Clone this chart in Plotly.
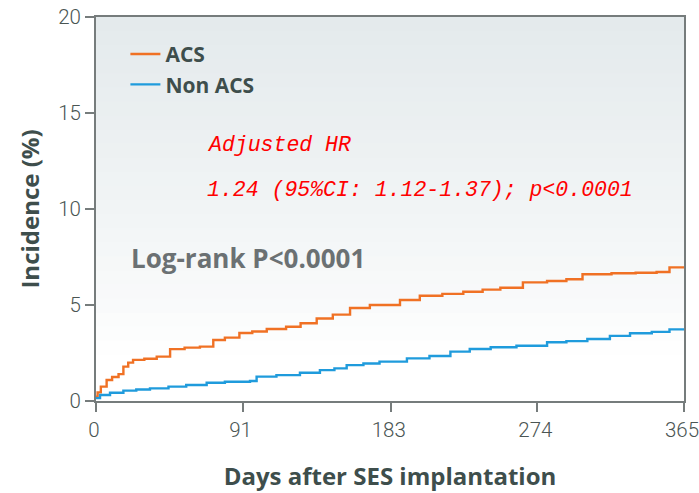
import plotly.graph_objects as go

# ---- data ----
acs_days = [0, 1, 3, 6.6, 10, 14, 17, 20, 23, 30, 37.7, 46, 55, 64.5, 72.8, 80, 89, 97, 106, 118,
            127, 137, 147, 157.7, 170, 188.7, 201, 215, 228, 240, 251, 265, 280, 292, 302, 320, 335,
            348, 356, 365]
acs_vals = [0.22, 0.45, 0.75, 1.09, 1.25, 1.4, 1.79, 2.0, 2.14, 2.2, 2.31, 2.7, 2.78, 2.83, 3.18, 3.3,
            3.54, 3.62, 3.75, 3.87, 4.05, 4.3, 4.5, 4.84, 5.0, 5.26, 5.48, 5.58, 5.69, 5.8, 5.9, 6.18, 6.25,
            6.34, 6.6, 6.65, 6.68, 6.72, 6.96, 6.98]

non_days = [0, 2.5, 8.7, 17, 25, 33.5, 45, 56, 68.7, 80, 95.6, 99.7, 112, 126.6, 139, 148, 155.6,
            166, 176, 193, 207, 220, 232, 245, 261, 280, 292, 305, 319, 331.5, 345, 356, 365]
non_vals = [0.15, 0.31, 0.43, 0.54, 0.6, 0.66, 0.75, 0.83, 0.95, 1.0, 1.04, 1.27, 1.35, 1.47, 1.61, 1.7,
            1.87, 1.95, 2.05, 2.22, 2.34, 2.57, 2.71, 2.8, 2.88, 3.06, 3.12, 3.23, 3.39, 3.53, 3.6, 3.73, 3.75]

x_ticks = [0, 91, 183, 274, 365]
y_ticks = [0, 5, 10, 15, 20]

ORANGE = "#f07124"
BLUE = "#1f9bdc"
AXIS = "#767c7c"
DARK = "#3e4e4c"
TICK = "#4a5553"

fig = go.Figure()
fig.add_trace(go.Scatter(x=acs_days, y=acs_vals, mode="lines", name="ACS",
                         line=dict(color=ORANGE, width=2.4, shape="hv")))
fig.add_trace(go.Scatter(x=non_days, y=non_vals, mode="lines", name="Non ACS",
                         line=dict(color=BLUE, width=2.4, shape="hv")))

# background gradient bands
shapes = []
n = 24
y0f, y1f = 0.12, 1.0
top = (228, 234, 236)
bot = (255, 255, 255)
for i in range(n):
    a = y0f + (y1f - y0f) * i / n
    b = y0f + (y1f - y0f) * (i + 1) / n
    t = (i + 0.5) / n
    c = tuple(round(bot[k] + (top[k] - bot[k]) * t ** 0.8) for k in range(3))
    shapes.append(dict(type="rect", xref="x domain", yref="y domain", x0=0, x1=1, y0=a, y1=b + 0.002,
                       fillcolor="rgb(%d,%d,%d)" % c, line=dict(width=0), layer="below"))

tickfont = dict(family="Roboto", size=20.5, color=TICK, weight=300)

fig.update_layout(
    width=699, height=493,
    margin=dict(l=96, r=15, t=17, b=92),
    paper_bgcolor="white", plot_bgcolor="white",
    shapes=shapes,
    showlegend=True,
    legend=dict(x=0.05, y=0.956, xanchor="left", yanchor="top", bgcolor="rgba(0,0,0,0)",
                font=dict(family="Open Sans", size=21, color=DARK, weight="bold"),
                itemwidth=30, tracegroupgap=0),
    xaxis=dict(range=[0, 365], tickvals=x_ticks, ticktext=[str(v) for v in x_ticks],
               showgrid=False, zeroline=False, showline=True, linecolor=AXIS, linewidth=2,
               mirror=True, ticks="outside", ticklen=9, tickcolor=AXIS, tickwidth=1.5,
               tickfont=tickfont, ticklabeloverflow="allow", automargin=False,
               ticklabelshift=-2,
               title=dict(text="Days after SES implantation", standoff=28,
                          font=dict(family="Open Sans", size=24, color=DARK, weight="bold"))),
    yaxis=dict(range=[0, 20], tickvals=y_ticks, ticktext=[str(v) for v in y_ticks],
               showgrid=False, zeroline=False, showline=True, linecolor=AXIS, linewidth=2,
               mirror=True, ticks="outside", ticklen=9, tickcolor=AXIS, tickwidth=1.5,
               tickfont=tickfont, ticklabeloverflow="allow", automargin=False,
               title=dict(text="Incidence (%)", standoff=12,
                          font=dict(family="Open Sans", size=24, color=DARK, weight="bold"))),
    annotations=[
        dict(x=67.7, y=13.33, xref="x", yref="y", text="<i>Adjusted HR</i>", showarrow=False,
             xanchor="left", yanchor="middle",
             font=dict(family="Liberation Mono", size=21.5, color="#ff0000")),
        dict(x=67.7, y=10.99, xref="x", yref="y",
             text="<i>1.24 (95%CI: 1.12-1.37); p&lt;0.0001</i>", showarrow=False,
             xanchor="left", yanchor="middle",
             font=dict(family="Liberation Mono", size=21.5, color="#ff0000")),
        dict(x=20.5, y=7.45, xref="x", yref="y", text="Log-rank P&lt;0.0001", showarrow=False,
             xanchor="left", yanchor="middle",
             font=dict(family="Open Sans", size=26, color="#6b7173", weight="bold")),
    ],
)

fig.write_html("out.html")
